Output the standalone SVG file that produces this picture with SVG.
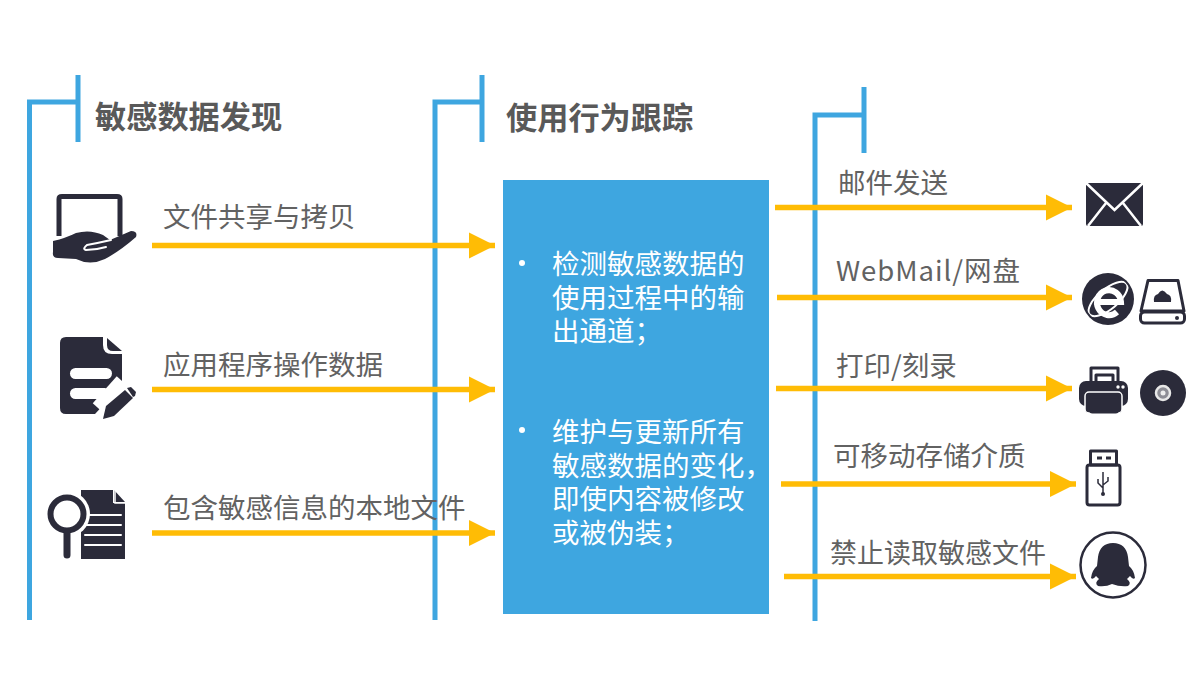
<svg xmlns="http://www.w3.org/2000/svg" width="1200" height="700" viewBox="0 0 1200 700">
<style>
text{font-family:"Noto Sans CJK SC","Noto Sans",sans-serif}
.h{font-size:31.200px;font-weight:700;fill:#595959}
.l{font-size:27.500px;fill:#626262}
.b{font-size:27.500px;fill:#fff}
.br{fill:none;stroke:#3ea6e0;stroke-width:5}
.c{fill:none;stroke:#ffbc05;stroke-width:5.500;marker-end:url(#a)}
.d{fill:#2b2b3a}
.o{fill:none;stroke:#2b2b3a;stroke-width:3;stroke-linejoin:round}
.w{fill:none;stroke:#fff;stroke-linecap:round}
</style>
<defs><marker id="a" markerUnits="userSpaceOnUse" markerWidth="28" markerHeight="28" refX="27" refY="14" orient="auto"><path d="M1 1L27 14L1 27Z" fill="#ffbc05"/></marker>
<clipPath id="ie"><circle cx="1108" cy="299" r="24"/></clipPath></defs>
<rect width="1200" height="700" fill="#fff"/>
<g id="brackets">
<path class="br" d="M29.500 620V102H78M78 75V142"/>
<path class="br" d="M435 620V102H482M482 75V142"/>
<path class="br" d="M815 621V115H864M864 87V153"/>
</g>
<g id="box"><rect x="503" y="180" width="266" height="434" fill="#3ea6e0"/>
<circle cx="522" cy="263" r="3" fill="#fff"/><circle cx="522" cy="430" r="3" fill="#fff"/>
<text class="b" x="552" y="274">检测敏感数据的</text>
<text class="b" x="552" y="308">使用过程中的输</text>
<text class="b" x="552" y="341">出通道；</text>
<text class="b" x="552" y="442">维护与更新所有</text>
<text class="b" x="552" y="476">敏感数据的变化，</text>
<text class="b" x="552" y="509">即使内容被修改</text>
<text class="b" x="552" y="543">或被伪装；</text></g>
<g id="connectors">
<path class="c" d="M152 245.500H495"/><path class="c" d="M152 389.500H495"/><path class="c" d="M152 533H495"/>
<path class="c" d="M775 207.500H1072"/><path class="c" d="M777 297.500H1072"/><path class="c" d="M776 388.500H1072"/><path class="c" d="M781 484H1076"/><path class="c" d="M784 576.500H1076"/>
</g>
<g id="title1"><text class="h" x="95" y="128">敏感数据发现</text></g>
<g id="title2"><text class="h" x="506" y="129">使用行为跟踪</text></g>
<g id="n-share">
<path d="M59 236V199Q59 196.500 62 196.500H117Q120 196.500 120 199V236" fill="none" stroke="#2b2b3a" stroke-width="5"/>
<path class="d" d="M53 241Q66 238 76 233Q90 229 103 235L110 240L131 231Q138 231 136 237Q120 251 105 259Q90 266 76 259L58 258Q52 258 53 252Z"/>
<path class="w" stroke-width="2" d="M111 240Q98 243 87 245Q82 249 86 250Q96 250 106 247"/>
<text class="l" x="163" y="227">文件共享与拷贝</text></g>
<g id="n-app">
<path class="d" d="M66 337H103V345Q103 354 112 354H122V385L95 414H66Q60 414 60 408V343Q60 337 66 337Z"/>
<path class="d" d="M107 338L122 351H113Q107 351 107 345Z"/>
<rect x="70" y="368" width="42" height="11" rx="5.500" fill="#fff"/><rect x="70" y="388" width="40" height="11" rx="5.500" fill="#fff"/>
<path d="M122 381L98 408" stroke="#fff" stroke-width="14"/>
<path class="d" d="M103 419L106 406L125 390L133 398L114 416Z"/><path class="d" d="M127 388L131 387L136 392L135 396L133 397Z"/>
<text class="l" x="163" y="375">应用程序操作数据</text></g>
<g id="n-local">
<path class="d" d="M81 490H113V503H125V559H81Z"/><path class="d" d="M114 490L125 502H114Z"/>
<path d="M115 490V503H125" fill="none" stroke="#fff" stroke-width="1.500"/>
<path class="w" stroke-width="2" d="M85 515H121M85 525H121M85 535H121M85 545H121"/>
<circle cx="67" cy="514" r="23" fill="#fff"/>
<circle cx="67" cy="514" r="16.500" fill="#fff" stroke="#2b2b3a" stroke-width="6"/>
<path d="M67 533V555" stroke="#2b2b3a" stroke-width="7" stroke-linecap="round"/>
<text class="l" x="163" y="518">包含敏感信息的本地文件</text></g>
<g id="n-mail">
<rect class="d" x="1086" y="183" width="57" height="43" rx="2"/>
<path d="M1086 183L1114.500 210L1143 183M1088 226L1106 203M1141 226L1123 203" fill="none" stroke="#fff" stroke-width="2.500"/>
<text class="l" x="838" y="193">邮件发送</text></g>
<g id="n-web">
<circle class="d" cx="1108" cy="299" r="26"/>
<g clip-path="url(#ie)"><ellipse cx="1108" cy="299" rx="24" ry="10" transform="rotate(-40 1108 299)" fill="none" stroke="#fff" stroke-width="2"/></g>
<path d="M1097 302H1121A12 12.500 0 1 0 1117 312" fill="none" stroke="#fff" stroke-width="6"/>
<path class="o" d="M1148 280.500H1178L1184 311H1141Z"/><rect class="o" x="1140.500" y="312" width="44" height="11" rx="4" fill="#fff"/>
<path class="d" d="M1154 302Q1153 295 1158 294Q1162 287 1167 294Q1172 295 1171 302Z"/><circle class="d" cx="1177" cy="318" r="2"/>
<text class="l" x="836" y="281" textLength="184">WebMail/网盘</text></g>
<g id="n-print">
<path class="o" d="M1091 383V368H1118V383M1096 382V375H1113V382"/>
<rect class="d" x="1079" y="381" width="49" height="25" rx="7"/>
<rect x="1085" y="392" width="37" height="21" rx="4" fill="#2b2b3a" stroke="#fff" stroke-width="1.500"/><rect class="o" x="1090.500" y="397" width="27" height="15" rx="2" fill="#fff"/>
<circle cx="1118" cy="387" r="1.700" fill="#fff"/><circle cx="1123" cy="387" r="1.700" fill="#fff"/>
<circle class="d" cx="1163" cy="393" r="23"/><circle cx="1163" cy="393" r="7" fill="#8d8d95" stroke="#e8e8e8" stroke-width="2.500"/><circle cx="1163" cy="393" r="2.500" fill="#eee"/>
<text class="l" x="836" y="376">打印/刻录</text></g>
<g id="n-usb">
<rect class="o" x="1090.500" y="451" width="26" height="14" fill="#fff"/>
<path d="M1097 458H1102M1106 458H1111" stroke="#2b2b3a" stroke-width="3"/>
<rect class="o" x="1087" y="465" width="33" height="40" rx="2.500" fill="#fff"/>
<path d="M1103 472V493M1103 488L1098 483V479M1103 485L1108 481V477" fill="none" stroke="#2b2b3a" stroke-width="1.500"/>
<circle class="d" cx="1103" cy="494" r="2"/>
<text class="l" x="833" y="466">可移动存储介质</text></g>
<g id="n-qq">
<circle cx="1113" cy="565" r="32.500" fill="#fff" stroke="#2b2b3a" stroke-width="2.500"/>
<path class="d" d="M1113 543Q1100 543 1098 557L1097 566Q1092 570 1091 578Q1093 580 1096 576L1099 579Q1094 583 1098 586Q1106 587 1112 584Q1120 587 1128 586Q1132 583 1127 579L1130 576Q1133 580 1135 578Q1134 570 1129 566L1128 557Q1126 543 1113 543Z"/>
<text class="l" x="830" y="563" style="font-size:27px">禁止读取敏感文件</text></g>
</svg>
